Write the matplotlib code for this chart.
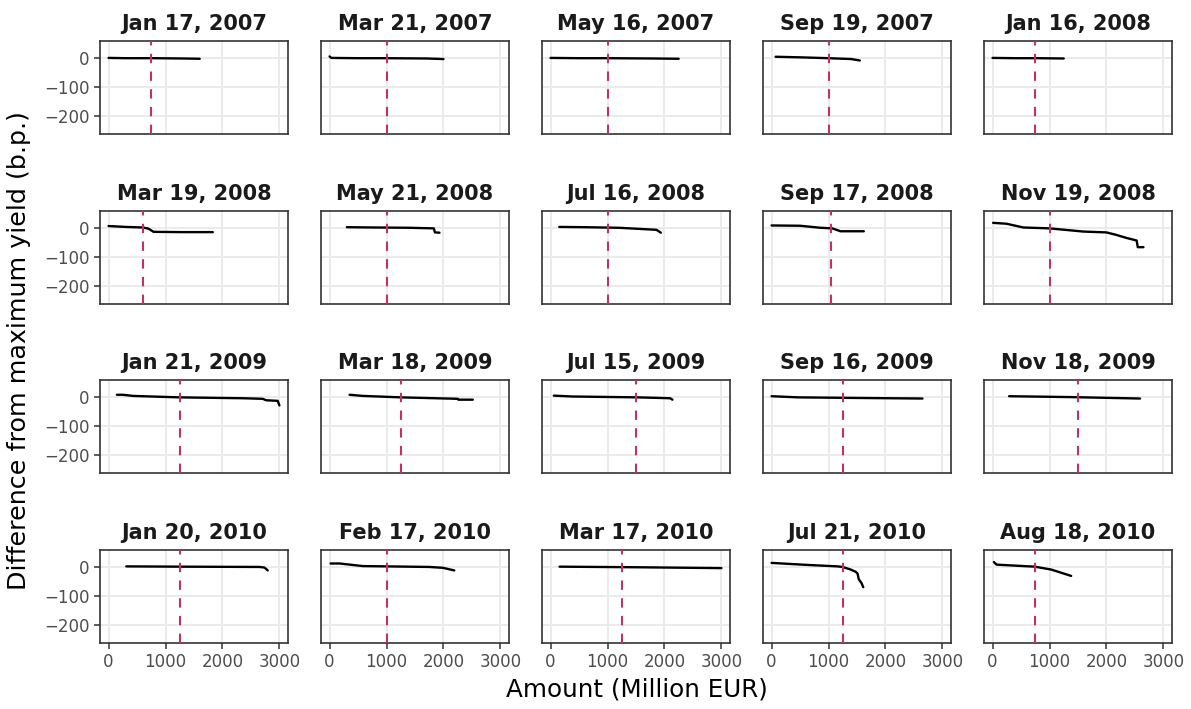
import matplotlib.pyplot as plt

titles = ["Jan 17, 2007", "Mar 21, 2007", "May 16, 2007", "Sep 19, 2007", "Jan 16, 2008",
          "Mar 19, 2008", "May 21, 2008", "Jul 16, 2008", "Sep 17, 2008", "Nov 19, 2008",
          "Jan 21, 2009", "Mar 18, 2009", "Jul 15, 2009", "Sep 16, 2009", "Nov 18, 2009",
          "Jan 20, 2010", "Feb 17, 2010", "Mar 17, 2010", "Jul 21, 2010", "Aug 18, 2010"]

# announced amount per auction (dashed line)
cutoff = [750, 1000, 1000, 1000, 750,
          600, 1000, 1000, 1050, 1000,
          1250, 1250, 1500, 1250, 1500,
          1250, 1000, 1250, 1250, 750]

# cumulative bid amount (Million EUR)
amount = [
    [0, 300, 800, 1300, 1600],
    [0, 30, 500, 1000, 1700, 2000],
    [0, 500, 1000, 1800, 2250],
    [70, 500, 1000, 1400, 1550],
    [0, 400, 800, 1250],
    [0, 300, 600, 700, 790, 1300, 1830],
    [304, 800, 1400, 1830, 1850, 1930],
    [152, 600, 1200, 1860, 1936],
    [0, 500, 860, 1065, 1210, 1620],
    [10, 245, 540, 1000, 1590, 2000, 2180, 2350, 2530, 2550, 2650],
    [146, 250, 430, 1245, 2357, 2707, 2766, 2970, 3000],
    [351, 585, 1257, 2251, 2260, 2515],
    [57, 380, 1530, 2100, 2140],
    [0, 470, 1500, 2650],
    [290, 1360, 2590],
    [310, 1245, 2650, 2737, 2795],
    [18, 175, 585, 1000, 1750, 1990, 2190],
    [158, 1500, 3000],
    [0, 632, 1158, 1245, 1390, 1480, 1510, 1530, 1580, 1610],
    [23, 70, 740, 1030, 1380],
]

# yield difference from maximum (b.p.)
diff = [
    [1, 0, 0, -1, -2],
    [6, 1, 0, 0, -1, -3],
    [1, 0, 0, -1, -2],
    [5, 3, 0, -3, -8],
    [1, 0, 0, -1],
    [6, 3, 1, -3, -14, -15, -15],
    [2, 1, 0, -2, -16, -17],
    [3, 2, 0, -7, -17],
    [8, 7, 0, -2, -12, -12],
    [17, 14, 1, -2, -13, -16, -25, -35, -44, -67, -67],
    [9, 9, 5, 0, -3, -5, -10, -12, -28],
    [9, 5, 0, -5, -8, -8],
    [6, 3, 0, -3, -8],
    [4, 0, -2, -4],
    [4, 1, -4],
    [2, 1, 0, -2, -12],
    [12, 12, 3, 2, 0, -3, -12],
    [1, -1, -4],
    [14, 7, 2, 0, -9, -17, -23, -42, -56, -70],
    [17, 8, 1, -9, -31],
]

xticks = [0, 1000, 2000, 3000]
yticks = [0, -100, -200]

fig, axes = plt.subplots(4, 5, figsize=(11.91, 7.09), dpi=100, sharex=True, sharey=True)
fig.subplots_adjust(left=0.084, right=0.984, top=0.942, bottom=0.093, wspace=0.176, hspace=0.82)

for i, ax in enumerate(axes.flat):
    ax.set_axisbelow(True)
    ax.grid(True, color='#EBEBEB', lw=1.4)
    ax.plot(amount[i], diff[i], color='black', lw=1.7, solid_capstyle='round', zorder=3)
    ax.axvline(cutoff[i], color='#C0306A', lw=1.5, dashes=(4.5, 4), zorder=4)
    ax.set_title(titles[i], fontsize=15, fontweight='bold', color='#1A1A1A', pad=8)
    for s in ax.spines.values():
        s.set_color('#333333')
        s.set_linewidth(1.2)
    ax.tick_params(colors='#333333', labelcolor='#4D4D4D', labelsize=12, length=4, width=1.1)
    r, c = divmod(i, 5)
    if c != 0:
        ax.tick_params(left=False)
    if r != 3:
        ax.tick_params(bottom=False)

ax = axes[0, 0]
ax.set_xlim(-150, 3150)
ax.set_ylim(-263, 59)
ax.set_xticks(xticks)
ax.set_yticks(yticks)

fig.text(0.535, 0.027, "Amount (Million EUR)", ha='center', va='center', fontsize=17.7)
fig.text(0.016, 0.506, "Difference from maximum yield (b.p.)", ha='center', va='center',
         rotation=90, fontsize=18.3)

fig.savefig("out.png", dpi=100)
